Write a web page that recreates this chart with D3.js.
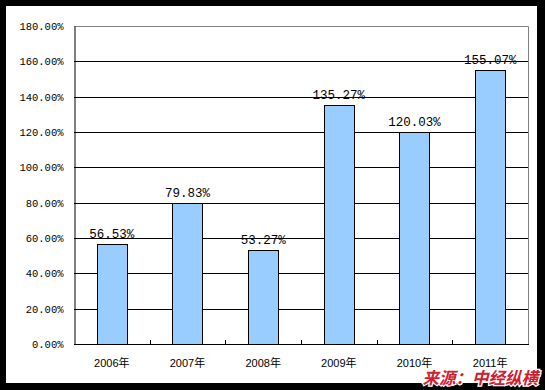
<!DOCTYPE html>
<html>
<head>
<meta charset="utf-8">
<script src="https://cdn.jsdelivr.net/npm/d3@7"></script>
<style>
  html, body { margin: 0; padding: 0; background: #000; }
  svg { display: block; }
</style>
</head>
<body>
<script>
// Chart data
var years = ["2006年", "2007年", "2008年", "2009年", "2010年", "2011年"];
var growth = [56.53, 79.83, 53.27, 135.27, 120.03, 155.07];
var yTicks = [0, 20, 40, 60, 80, 100, 120, 140, 160, 180];

var width = 545, height = 390;
var plot = {left: 74, top: 26, right: 528, bottom: 344};

var svg = d3.select("body").append("svg")
    .attr("width", width)
    .attr("height", height);

// black frame with white panel
svg.append("rect").attr("width", width).attr("height", height).attr("fill", "#000");
svg.append("rect")
    .attr("x", 6).attr("y", 6)
    .attr("width", 531).attr("height", 377)
    .attr("fill", "#fff");

var x = d3.scaleBand()
    .domain(years)
    .range([plot.left, plot.right])
    .paddingInner(0.6)
    .paddingOuter(0.3);

var xBand = d3.scaleBand().domain(years).range([plot.left, plot.right]);

var y = d3.scaleLinear()
    .domain([0, 180])
    .range([plot.bottom, plot.top]);

// gridlines
svg.append("g").selectAll("line")
    .data(yTicks.filter(function (d) { return d > 0 && d < 180; }))
    .enter().append("line")
    .attr("x1", plot.left).attr("x2", plot.right)
    .attr("y1", function (d) { return Math.round(y(d)) + 0.5; })
    .attr("y2", function (d) { return Math.round(y(d)) + 0.5; })
    .attr("stroke", "#000");

// top + right border (gray)
svg.append("path")
    .attr("d", "M" + plot.left + "," + (plot.top + 0.5) + "H" + (plot.right + 0.5) + "V" + plot.bottom)
    .attr("fill", "none")
    .attr("stroke", "#808080");

// bars
svg.append("g").selectAll("rect")
    .data(growth)
    .enter().append("rect")
    .attr("x", function (d, i) { return Math.round(x(years[i])) + 0.5; })
    .attr("y", function (d) { return Math.round(y(d)) + 0.5; })
    .attr("width", Math.round(x.bandwidth()))
    .attr("height", function (d) { return Math.round(plot.bottom - y(d)); })
    .attr("fill", "#99ccff")
    .attr("stroke", "#000");

// value labels
svg.append("g").selectAll("text")
    .data(growth)
    .enter().append("text")
    .attr("x", function (d, i) { return x(years[i]) + x.bandwidth() / 2; })
    .attr("y", function (d) { return y(d) - 6; })
    .attr("text-anchor", "middle")
    .style("font-family", "'Liberation Mono', monospace")
    .style("font-size", "12.5px")
    .attr("fill", "#000")
    .text(function (d) { return d.toFixed(2) + "%"; });

// y axis
var yAxis = svg.append("g")
    .attr("transform", "translate(" + (plot.left + 0.5) + ",0)")
    .call(d3.axisLeft(y).tickValues(yTicks).tickSize(0).tickPadding(11)
        .tickFormat(function (d) { return d.toFixed(2) + "%"; }));
yAxis.select(".domain").attr("stroke", "#000");
yAxis.selectAll("text")
    .style("font-family", "'Liberation Mono', monospace")
    .style("font-size", "10.5px")
    .attr("fill", "#000");

// x axis with inward ticks at category boundaries
svg.append("line")
    .attr("x1", plot.left).attr("x2", plot.right + 1)
    .attr("y1", plot.bottom + 0.5).attr("y2", plot.bottom + 0.5)
    .attr("stroke", "#000");
svg.append("g").selectAll("line")
    .data(years.slice(1))
    .enter().append("line")
    .attr("x1", function (d) { return Math.round(xBand(d)) + 0.5; })
    .attr("x2", function (d) { return Math.round(xBand(d)) + 0.5; })
    .attr("y1", plot.bottom).attr("y2", plot.bottom - 4)
    .attr("stroke", "#000");

svg.append("g").selectAll("text")
    .data(years)
    .enter().append("text")
    .attr("x", function (d) { return xBand(d) + xBand.bandwidth() / 2; })
    .attr("y", plot.bottom + 23)
    .attr("text-anchor", "middle")
    .style("font-family", "'Liberation Sans', 'Noto Sans CJK SC', sans-serif")
    .style("font-size", "11px")
    .attr("fill", "#000")
    .text(function (d) { return d; });

// source watermark
svg.append("text")
    .attr("x", 538).attr("y", 384)
    .attr("text-anchor", "end")
    .style("font-family", "'Noto Sans CJK SC', sans-serif")
    .style("font-size", "16.5px")
    .style("font-weight", "bold")
    .style("font-style", "italic")
    .attr("fill", "#d02030")
    .attr("stroke", "#fff")
    .attr("stroke-width", 2.5)
    .attr("paint-order", "stroke")
    .text("来源：中经纵横");
</script>
</body>
</html>
